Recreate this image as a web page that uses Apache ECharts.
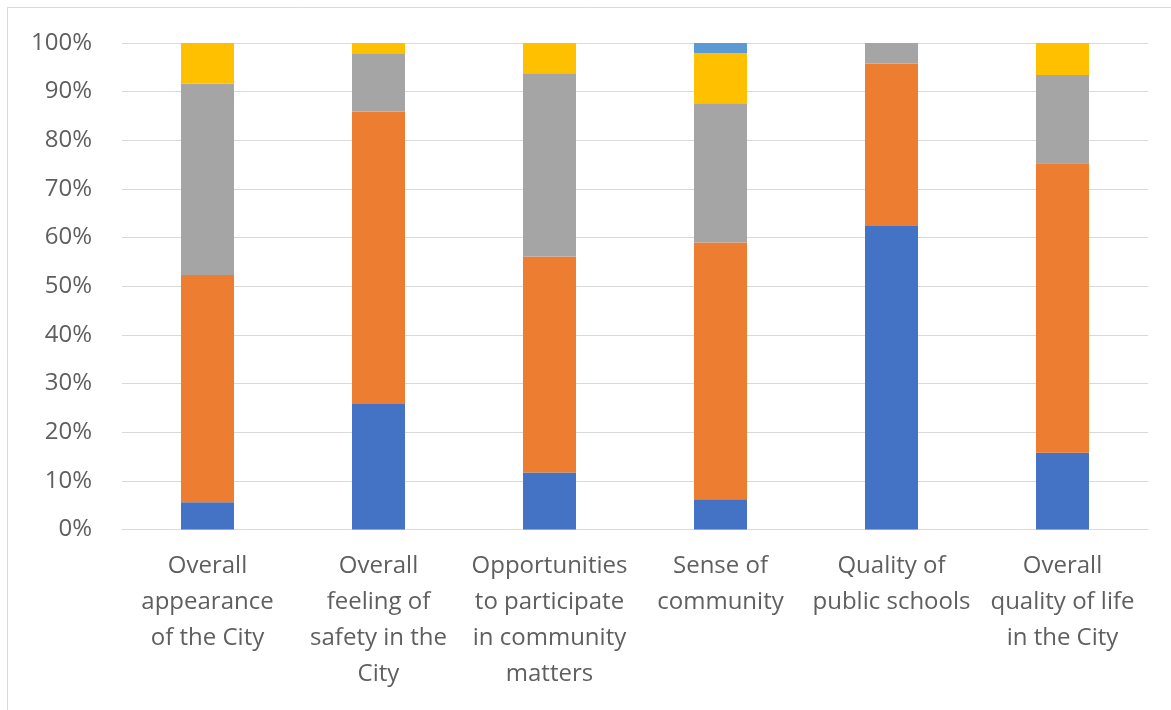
<!DOCTYPE html>
<html>
<head>
<meta charset="utf-8">
<title>Resident ratings of city characteristics</title>
<script src="https://cdn.jsdelivr.net/npm/echarts@6/dist/echarts.min.js"></script>
<style>
  html, body { margin: 0; padding: 0; background: #ffffff; }
  #chart { width: 1171px; height: 710px; }
</style>
</head>
<body>
<div id="chart"></div>
<script>
// Survey items (line breaks follow the wrapped axis labels)
const categories = [
  'Overall\nappearance\nof the City',
  'Overall\nfeeling of\nsafety in the\nCity',
  'Opportunities\nto participate\nin community\nmatters',
  'Sense of\ncommunity',
  'Quality of\npublic schools',
  'Overall\nquality of life\nin the City'
];

// Share of responses per rating, in percent
const excellent = [5.6, 25.8, 11.7, 6.2, 62.4, 15.8];
const good      = [46.7, 60.1, 44.4, 52.8, 33.4, 59.5];
const fair      = [39.4, 12.0, 37.7, 28.6, 4.2, 18.1];
const poor      = [8.3, 2.1, 6.2, 10.3, 0, 6.6];
const dontKnow  = [0, 0, 0, 2.1, 0, 0];

const yTicks = [0, 10, 20, 30, 40, 50, 60, 70, 80, 90, 100];

const seriesDefs = [
  { name: 'Excellent',  data: excellent, color: '#4472C4' },
  { name: 'Good',       data: good,      color: '#ED7D31' },
  { name: 'Fair',       data: fair,      color: '#A5A5A5' },
  { name: 'Poor',       data: poor,      color: '#FFC000' },
  { name: "Don't know", data: dontKnow,  color: '#5B9BD5' }
];

const textColor = '#5f5f5f';
const fontFamily = '"Open Sans", "Liberation Sans", sans-serif';

const chart = echarts.init(document.getElementById('chart'), null, { renderer: 'canvas' });

chart.setOption({
  animation: false,
  backgroundColor: '#ffffff',
  grid: { left: 122, right: 23, top: 43, bottom: 180.5, containLabel: false },
  xAxis: {
    type: 'category',
    data: categories,
    axisLine: { show: true, lineStyle: { color: '#d9d9d9', width: 1 } },
    axisTick: { show: false },
    axisLabel: {
      interval: 0,
      margin: 19,
      color: textColor,
      fontFamily: fontFamily,
      fontSize: 24,
      lineHeight: 36,
      align: 'center'
    }
  },
  yAxis: {
    type: 'value',
    min: yTicks[0],
    max: yTicks[yTicks.length - 1],
    interval: 10,
    axisLine: { show: false },
    axisTick: { show: false },
    splitLine: { lineStyle: { color: '#d9d9d9', width: 1 } },
    axisLabel: {
      margin: 30,
      color: textColor,
      fontFamily: fontFamily,
      fontSize: 24,
      formatter: v => v + '%'
    }
  },
  series: seriesDefs.map(s => ({
    name: s.name,
    type: 'bar',
    stack: 'total',
    barWidth: 53,
    data: s.data,
    itemStyle: { color: s.color },
    emphasis: { disabled: true }
  })),
  graphic: [
    // chart-area border along the top and left edges
    { type: 'line', shape: { x1: 7.5, y1: 7.5, x2: 1171, y2: 7.5 }, style: { stroke: '#d9d9d9', lineWidth: 1 } },
    { type: 'line', shape: { x1: 7.5, y1: 7.5, x2: 7.5, y2: 710 }, style: { stroke: '#d9d9d9', lineWidth: 1 } }
  ]
});
</script>
</body>
</html>
